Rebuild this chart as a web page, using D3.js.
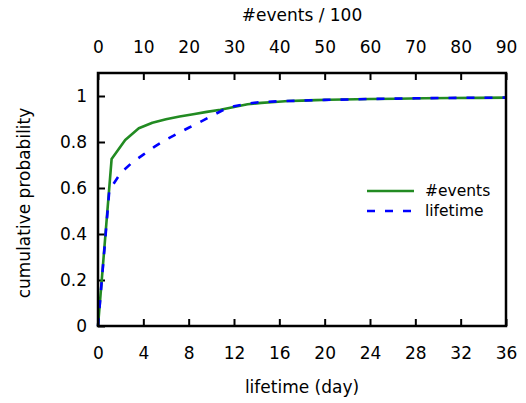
<!DOCTYPE html>
<html><head><meta charset="utf-8">
<script src="https://cdn.jsdelivr.net/npm/d3@7"></script>
<style>body{margin:0;background:#fff}svg{display:block}text{font-family:"DejaVu Sans",Verdana,sans-serif;}</style>
</head><body><svg id="c" width="526" height="403"></svg>
<script>
// Data
const eventsX = [0,3,6,9,12,15,18,21,24,27,30,33,36,39,42,45,48,51,54,57,60,66,72,78,84,90]; // #events / 100
const eventsY = [0,0.726,0.809,0.86,0.884,0.899,0.911,0.921,0.931,0.940,0.952,0.964,0.970,0.974,0.978,0.980,0.982,0.984,0.985,0.986,0.987,0.988,0.990,0.991,0.992,0.993];
const lifeX = [0,1,2,3,4,5,6,7,8,9,10,11,12,13,14,15,16,18,20,24,28,32,36]; // days
const lifeY = [0,0.59,0.665,0.71,0.745,0.78,0.81,0.836,0.862,0.887,0.913,0.938,0.955,0.965,0.972,0.975,0.977,0.980,0.983,0.987,0.990,0.992,0.993];
const bottomTicks = [0,4,8,12,16,20,24,28,32,36];
const topTicks = [0,10,20,30,40,50,60,70,80,90];
const yTicks = [0,0.2,0.4,0.6,0.8,1];

const svg = d3.select("#c");
const L=98,R=506,T=73,B=326;
const x = d3.scaleLinear().domain([0,36]).range([L,R]);
const xt = d3.scaleLinear().domain([0,90]).range([L,R]);
const y = d3.scaleLinear().domain([0,1.1]).range([B,T]);

const fs = 17;
const gb = svg.append("g").attr("transform",`translate(0,${B})`)
  .call(d3.axisBottom(x).tickValues(bottomTicks).tickSize(-7).tickFormat(d3.format("d")));
const gt = svg.append("g").attr("transform",`translate(0,${T})`)
  .call(d3.axisTop(xt).tickValues(topTicks).tickSize(-7).tickFormat(d3.format("d")));
const gl = svg.append("g").attr("transform",`translate(${L},0)`)
  .call(d3.axisLeft(y).tickValues(yTicks).tickSize(-7).tickPadding(11).tickFormat(d=>d===0?"0":d===1?"1":String(d)));
[gb,gt,gl].forEach(g=>{
  g.select(".domain").remove();
  g.selectAll(".tick line").attr("stroke","#000").attr("stroke-width",2);
  g.selectAll(".tick text").attr("font-size",fs).attr("font-family","DejaVu Sans").attr("fill","#000");
});
gb.selectAll(".tick text").attr("y",27).attr("dy","0.35em");
gt.selectAll(".tick text").attr("y",-26).attr("dy","0.35em");

// lines
const lineE = d3.line().x((d,i)=>xt(eventsX[i])).y(d=>y(d));
const lineL = d3.line().x((d,i)=>x(lifeX[i])).y(d=>y(d));
svg.append("path").attr("d",lineE(eventsY)).attr("fill","none").attr("stroke","#228b22").attr("stroke-width",2.6).attr("stroke-linejoin","round");
svg.append("path").attr("d",lineL(lifeY)).attr("fill","none").attr("stroke","#0000ff").attr("stroke-width",2.6).attr("stroke-dasharray","8,10");

// frame
svg.append("rect").attr("x",L).attr("y",T).attr("width",R-L).attr("height",B-T).attr("fill","none").attr("stroke","#000").attr("stroke-width",2.5);

// legend
const leg = [{t:"#events",c:"#228b22",d:null,yy:191},{t:"lifetime",c:"#0000ff",d:"8,10",yy:211}];
leg.forEach(l=>{
  svg.append("line").attr("x1",367).attr("x2",414).attr("y1",l.yy).attr("y2",l.yy).attr("stroke",l.c).attr("stroke-width",2.6).attr("stroke-dasharray",l.d);
  svg.append("text").attr("x",425).attr("y",l.yy).attr("dy","0.35em").attr("font-size",15.5).text(l.t);
});

// axis titles
svg.append("text").attr("x",302).attr("y",387).attr("dy","0.35em").attr("text-anchor","middle").attr("font-size",fs).text("lifetime (day)");
svg.append("text").attr("x",302).attr("y",15).attr("dy","0.35em").attr("text-anchor","middle").attr("font-size",fs).text("#events / 100");
svg.append("text").attr("transform","translate(24,203) rotate(-90)").attr("dy","0.35em").attr("text-anchor","middle").attr("font-size",fs).text("cumulative probability");
</script></body></html>
